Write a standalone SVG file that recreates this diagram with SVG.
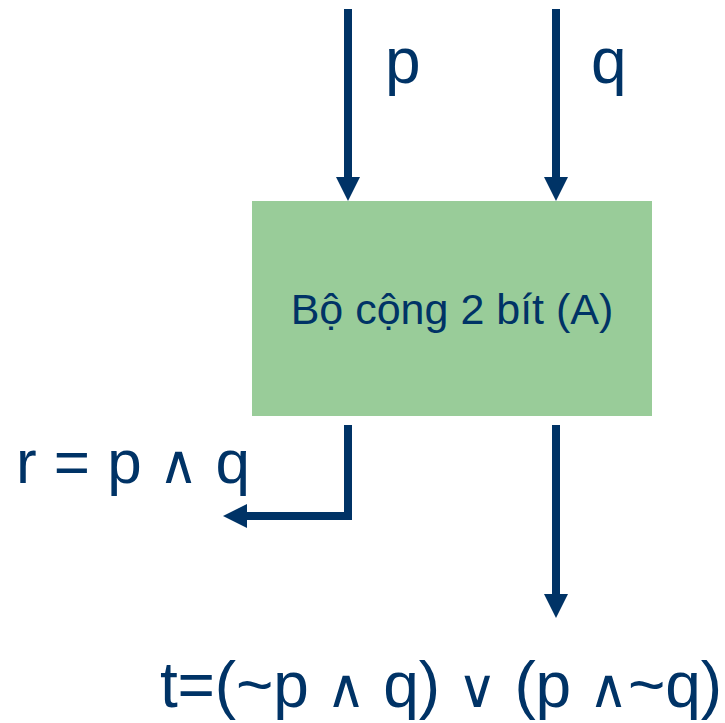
<svg xmlns="http://www.w3.org/2000/svg" width="725" height="723" viewBox="0 0 725 723">
  <style>
    .wire { fill: none; stroke: #003366; stroke-width: 8; }
    .lbl { font-family: "Liberation Sans", Arial, sans-serif; fill: #003366; }
    .big { font-size: 64px; }
    .op { font-family: "DejaVu Sans", sans-serif; font-size: 54px; }
    .box { fill: #99CC99; }
  </style>
  <defs>
    <marker id="head" markerUnits="userSpaceOnUse" markerWidth="24" markerHeight="24" viewBox="0 0 24 24" refX="0" refY="12" orient="auto">
      <path d="M0,0 L24,12 L0,24 Z" fill="#003366"/>
    </marker>
  </defs>

  <rect width="725" height="723" fill="#FFFFFF"/>

  <!-- adder block -->
  <g id="adder">
    <rect class="box" x="252" y="201" width="400" height="215"/>
    <text class="lbl" x="452" y="324" font-size="43" text-anchor="middle">Bộ cộng 2 bít (A)</text>
  </g>

  <!-- connectors -->
  <g id="connectors">
    <line class="wire" x1="348" y1="9" x2="348" y2="177" marker-end="url(#head)"/>
    <line class="wire" x1="556" y1="9" x2="556" y2="177" marker-end="url(#head)"/>
    <polyline class="wire" points="348,425 348,516 247,516" marker-end="url(#head)"/>
    <line class="wire" x1="556" y1="425" x2="556" y2="594" marker-end="url(#head)"/>
  </g>

  <!-- signal labels -->
  <g id="label-p"><text class="lbl big" x="385" y="83">p</text></g>
  <g id="label-q"><text class="lbl big" x="591" y="83">q</text></g>
  <g id="label-r"><text class="lbl" x="16" y="483" font-size="62" textLength="234" lengthAdjust="spacing">r = p <tspan class="op">∧</tspan> q</text></g>
  <g id="label-t"><text class="lbl big" x="160" y="707" textLength="562" lengthAdjust="spacing">t=(~p <tspan class="op">∧</tspan> q) <tspan class="op">∨</tspan> (p <tspan class="op">∧</tspan>~q)</text></g>
</svg>
